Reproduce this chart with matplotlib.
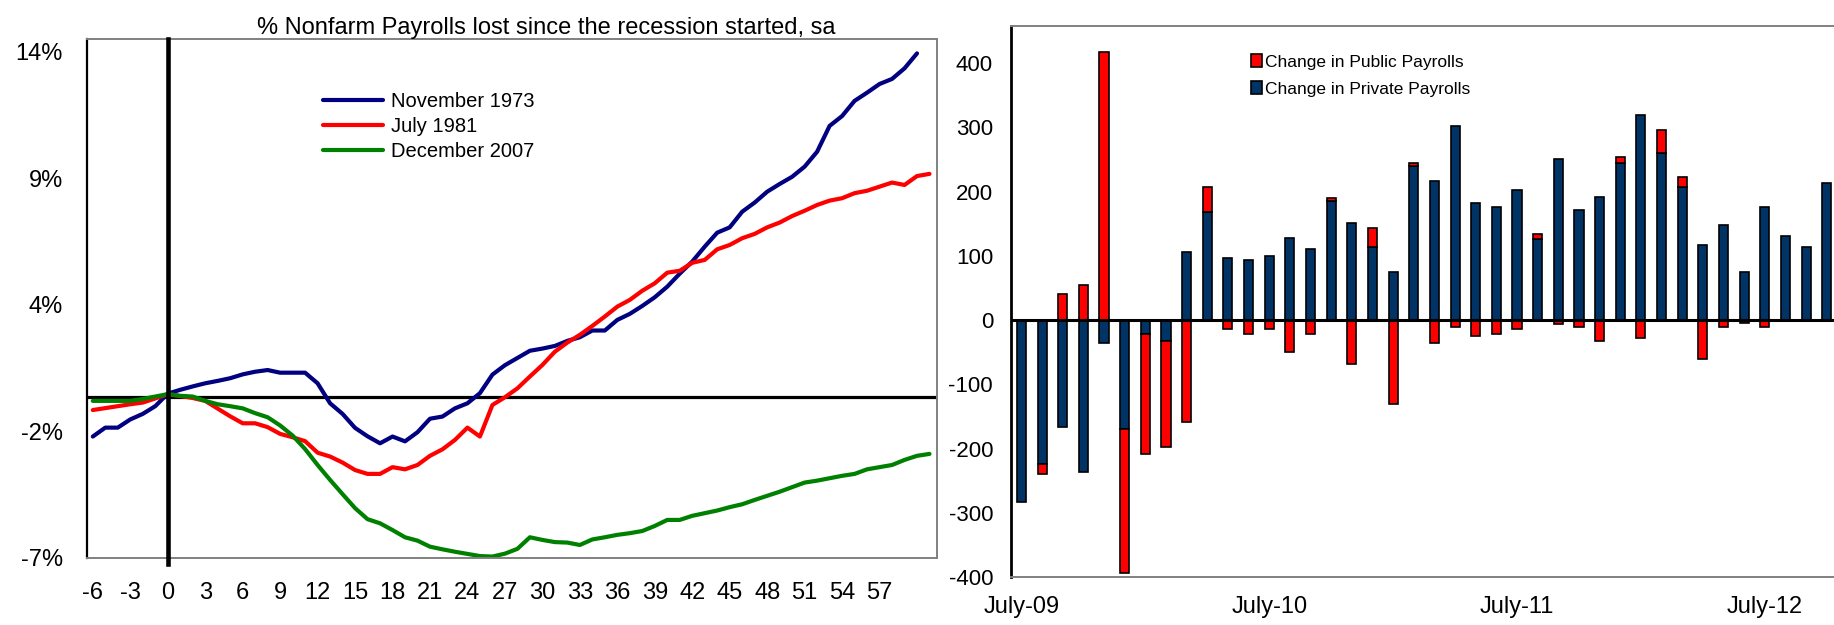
import numpy as np
import matplotlib.pyplot as plt
from matplotlib.patches import Patch

plt.rcParams['font.family'] = ['Liberation Sans', 'DejaVu Sans']
plt.rcParams['axes.unicode_minus'] = False

# left panel: % change in nonfarm payrolls since the recession started
months_1973 = list(range(-6, 61))
months = list(range(-6, 62))
nov_1973 = [-1.66, -1.29, -1.29, -0.95, -0.72, -0.40, 0.12,
            0.28, 0.42, 0.55, 0.65, 0.76, 0.92, 1.03, 1.10, 0.99, 0.99,
            0.99, 0.55, -0.28, -0.72, -1.30, -1.65, -1.94, -1.66, -1.86, -1.48,
            -0.92, -0.83, -0.49, -0.28, 0.14, 0.91, 1.30, 1.60, 1.90, 1.99,
            2.10, 2.31, 2.46, 2.74, 2.74, 3.18, 3.43, 3.76, 4.12, 4.56,
            5.10, 5.60, 6.22, 6.80, 7.02, 7.67, 8.05, 8.50, 8.82, 9.12,
            9.54, 10.16, 11.23, 11.64, 12.27, 12.61, 12.97, 13.18, 13.62, 14.24]
jul_1981 = [-0.56, -0.48, -0.40, -0.32, -0.25, -0.08, 0.10,
            0.02, -0.06, -0.18, -0.50, -0.82, -1.11, -1.11, -1.27, -1.55, -1.69,
            -1.85, -2.33, -2.49, -2.74, -3.05, -3.21, -3.21, -2.93, -3.02, -2.84,
            -2.46, -2.19, -1.80, -1.29, -1.66, -0.35, -0.03, 0.34, 0.83, 1.31,
            1.86, 2.24, 2.56, 2.93, 3.32, 3.73, 4.01, 4.39, 4.70, 5.14,
            5.22, 5.55, 5.67, 6.11, 6.29, 6.57, 6.75, 7.02, 7.22, 7.49,
            7.71, 7.95, 8.13, 8.23, 8.44, 8.54, 8.71, 8.88, 8.78, 9.15, 9.24]
dec_2007 = [-0.18, -0.18, -0.18, -0.18, -0.10, 0.00, 0.10,
            0.03, 0.00, -0.18, -0.32, -0.40, -0.49, -0.69, -0.86, -1.20, -1.62,
            -2.18, -2.84, -3.46, -4.05, -4.63, -5.09, -5.26, -5.54, -5.84, -5.98,
            -6.23, -6.34, -6.44, -6.53, -6.62, -6.64, -6.52, -6.32, -5.84, -5.95,
            -6.04, -6.06, -6.16, -5.93, -5.84, -5.74, -5.67, -5.58, -5.37, -5.12,
            -5.12, -4.95, -4.84, -4.73, -4.59, -4.47, -4.29, -4.12, -3.95, -3.76,
            -3.57, -3.49, -3.39, -3.29, -3.21, -3.02, -2.93, -2.84, -2.63, -2.46, -2.38]

month_ticks = list(range(-6, 58, 3))
pct_ticks = [-6.7, -1.45, 3.8, 9.05, 14.3]
pct_labels = ['-7%', '-2%', '4%', '9%', '14%']

# right panel: monthly change in payrolls (thousands), July 2009 onwards
private_chg = [-283, -224, -166, -236, -36, -169, -21, -32, 106, 169,
               97, 93, 100, 128, 111, 186, 151, 114, 75, 240,
               217, 303, 182, 176, 203, 126, 251, 172, 192, 244,
               320, 261, 207, 117, 148, 75, 176, 131, 114, 213]
public_chg = [0, -15, 41, 55, 417, -224, -187, -165, -159, 38,
              -14, -22, -14, -49, -22, 4, -69, 30, -131, 4,
              -36, -10, -25, -22, -14, 8, -6, -11, -32, 10,
              -28, 35, 16, -60, -10, -5, -11, -2, -2, -2]
date_ticks = [0, 12, 24, 36]
date_labels = ['July-09', 'July-10', 'July-11', 'July-12']
value_ticks = [-400, -300, -200, -100, 0, 100, 200, 300, 400]

navy = '#000080'
red = '#FF0000'
green = '#008000'
bar_navy = '#003366'
grey = '#808080'

fig = plt.figure(figsize=(18.34, 6.25), dpi=100)

# ---- left chart
ax = fig.add_axes([0.0472, 0.1072, 0.4637, 0.8309])
ax.axhline(0, color='black', lw=2.3, zorder=1)
ax.plot(months_1973, nov_1973, color=navy, lw=3.0, label='November 1973',
        solid_joinstyle='round', solid_capstyle='round', zorder=2)
ax.plot(months, jul_1981, color=red, lw=3.0, label='July 1981',
        solid_joinstyle='round', solid_capstyle='round', zorder=2)
ax.plot(months, dec_2007, color=green, lw=3.0, label='December 2007',
        solid_joinstyle='round', solid_capstyle='round', zorder=2)
ax.axvline(0, ymin=-0.012, ymax=1, color='black', lw=3.3, zorder=3, clip_on=False)

ax.set_xlim(-6.5, 61.6)
ax.set_ylim(-6.7, 14.85)
ax.set_xticks(month_ticks)
ax.set_yticks(pct_ticks)
ax.set_yticklabels(pct_labels)
ax.tick_params(axis='both', length=0, labelsize=17)
ax.tick_params(axis='x', pad=17)
ax.tick_params(axis='y', pad=17)
for side in ['top', 'right', 'bottom']:
    ax.spines[side].set_color(grey)
    ax.spines[side].set_linewidth(1.4)
ax.spines['left'].set_color('black')
ax.spines['left'].set_linewidth(1.6)
ax.set_title('% Nonfarm Payrolls lost since the recession started, sa',
             fontsize=17, x=0.541, pad=3)
ax.legend(loc='upper left', bbox_to_anchor=(0.278, 0.897), frameon=False,
          fontsize=14.5, handlelength=3.0, handletextpad=0.36,
          labelspacing=0.3, borderpad=0, borderaxespad=0)

# ---- right chart
ax2 = fig.add_axes([0.5513, 0.0768, 0.4504, 0.8816])
idx = np.arange(len(private_chg))
priv = np.array(private_chg)
pub = np.array(public_chg)
pub_bottom = np.where(np.sign(pub) == np.sign(priv), priv, 0)
width = 0.44
ax2.bar(idx, priv, width, color=bar_navy, edgecolor='black', lw=1.2, zorder=2)
ax2.bar(idx, pub, width, bottom=pub_bottom, color=red, edgecolor='black', lw=1.2, zorder=2)
ax2.axhline(0, color='black', lw=2.2, zorder=3)

ax2.set_xlim(-0.5, 39.5)
ax2.set_ylim(-400, 458)
ax2.set_xticks(date_ticks)
ax2.set_xticklabels(date_labels)
ax2.set_yticks(value_ticks)
ax2.tick_params(axis='both', length=0)
ax2.tick_params(axis='x', labelsize=17, pad=14)
ax2.tick_params(axis='y', labelsize=16, pad=13)
for side in ['top', 'right', 'bottom']:
    ax2.spines[side].set_color(grey)
    ax2.spines[side].set_linewidth(1.4)
ax2.spines['left'].set_color('black')
ax2.spines['left'].set_linewidth(2.0)

handles = [Patch(facecolor=red, edgecolor='black', lw=1.2, label='Change in Public Payrolls'),
           Patch(facecolor=bar_navy, edgecolor='black', lw=1.2, label='Change in Private Payrolls')]
ax2.legend(handles=handles, loc='upper left', bbox_to_anchor=(0.291, 0.949), frameon=False,
           fontsize=12.5, handlelength=0.6, handleheight=0.78, handletextpad=0.2,
           labelspacing=0.65, borderpad=0, borderaxespad=0)

fig.savefig('out.png', dpi=100, facecolor='white')
